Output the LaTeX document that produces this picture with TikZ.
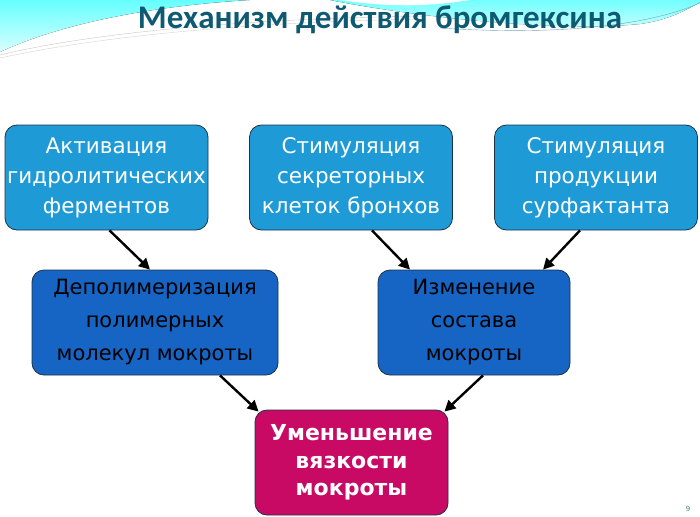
\documentclass[tikz,border=0pt]{standalone}
\usepackage{fontspec}
\setmainfont{DejaVu Sans}
\newfontfamily\titlefont{Carlito}
\usepackage{tikz}
\usetikzlibrary{arrows,arrows.meta,positioning,calc}
\definecolor{topblue}{RGB}{30,155,215}
\definecolor{midblue}{RGB}{22,100,195}
\definecolor{endred}{RGB}{200,10,100}
\definecolor{edge}{RGB}{30,50,70}
\definecolor{titleteal}{RGB}{15,90,115}
\tikzstyle{box}=[draw=edge,line width=0.8pt,rounded corners=12pt,align=center,
  inner sep=0pt,minimum height=105pt]
\tikzstyle{topbox}=[box,fill=topblue,text=white,minimum width=203pt,
  font=\fontsize{21.5}{30}\selectfont]
\tikzstyle{midbox}=[box,fill=midblue,text=black,
  font=\fontsize{21}{33}\selectfont]
\tikzstyle{endbox}=[box,fill=endred,text=white,minimum width=193pt,
  font=\bfseries\fontsize{22}{27.5}\selectfont]
\tikzstyle{link}=[-{Triangle[length=11pt,width=11pt]},line width=2.4pt,black]

\begin{document}
\begin{tikzpicture}[x=1pt,y=-1pt]
  \useasboundingbox (0,0) rectangle (700,516);
  % background waves
  \fill[top color=cyan!60!white,bottom color=cyan!15] (0,0) -- (0,52)
    .. controls (60,24) and (150,6) .. (250,0) -- cycle;
  \fill[top color=cyan!55!white,bottom color=cyan!18] (330,0)
    .. controls (420,18) and (560,32) .. (640,24)
    .. controls (670,20) and (690,8) .. (700,2) -- (700,0) -- cycle;
  \fill[white] (340,0) .. controls (380,6) and (420,8) .. (470,0) -- cycle;
  \draw[gray!45,line width=0.4pt] (0,55) .. controls (100,31) and (260,18) .. (430,16);
  \draw[gray!35,line width=0.4pt] (0,58) .. controls (110,34) and (270,21) .. (430,19);
  \draw[cyan!40!gray,line width=0.4pt] (440,28) .. controls (560,36) and (650,25) .. (700,3);
  \node[text=titleteal,font=\titlefont\bfseries\fontsize{33}{33}\selectfont]
    (title) at (380,20) {Механизм действия бромгексина};
  % boxes
  \node[topbox] (act) at (106.5,177.5) {Активация\\гидролитических\\ферментов};
  \node[topbox] (stim) at (351,177.5) {Стимуляция\\секреторных\\клеток бронхов};
  \node[topbox] (surf) at (596,177.5) {Стимуляция\\продукции\\сурфактанта};
  \node[midbox,minimum width=246pt] (depol) at (155,322.5)
    {Деполимеризация\\полимерных\\молекул мокроты};
  \node[midbox,minimum width=192pt] (change) at (474,322.5)
    {Изменение\\состава\\мокроты};
  \node[endbox] (visc) at (351.5,462.5) {Уменьшение\\вязкости\\мокроты};
  % arrows
  \draw[link] ([xshift=3pt]act.south) -- ([xshift=-5pt]depol.north);
  \draw[link] ([xshift=21pt]stim.south) -- ([xshift=-64pt]change.north);
  \draw[link] ([xshift=-16pt]surf.south) -- ([xshift=69pt]change.north);
  \draw[link] ([xshift=65pt]depol.south) -- ([xshift=4pt,yshift=-2pt]visc.north west);
  \draw[link] ([xshift=9pt]change.south) -- ([xshift=-4pt,yshift=-2pt]visc.north east);
  \node[text=titleteal!80,font=\fontsize{7}{7}\selectfont] (num) at (688,509) {9};
\end{tikzpicture}
\end{document}
